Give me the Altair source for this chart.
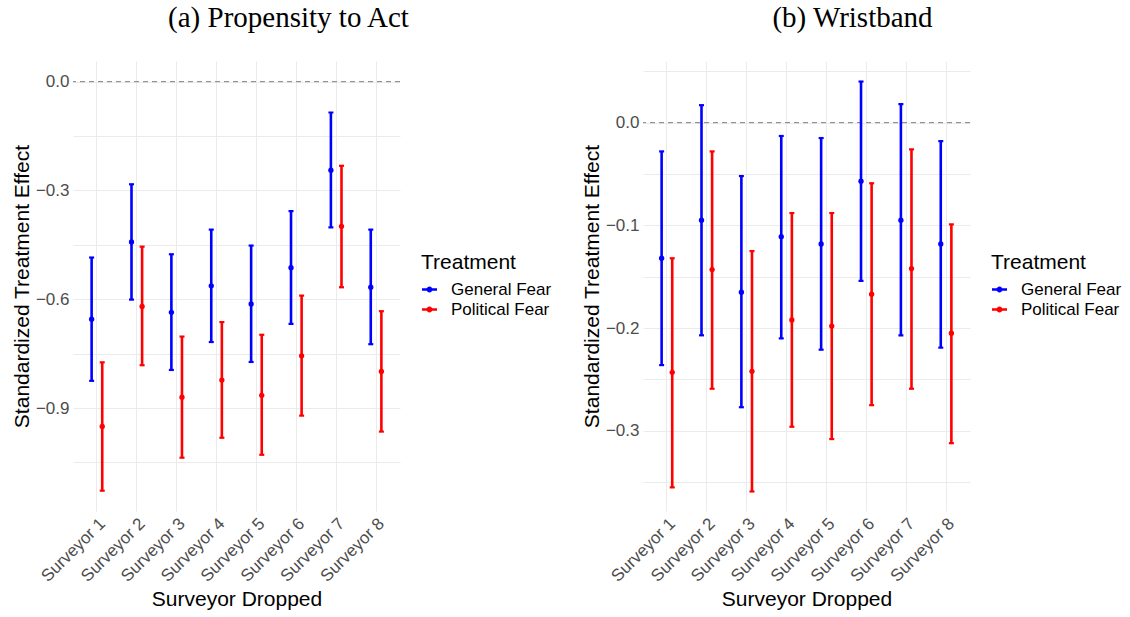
import altair as alt
import pandas as pd

surveyors = [f"Surveyor {i}" for i in range(1, 9)]
treatments = ["General Fear", "Political Fear"]
colors = ["#0000FF", "#FF0000"]

# (a) Propensity to Act: point estimates and 95% interval bounds
act_general_est = [-0.655, -0.442, -0.636, -0.563, -0.613, -0.513, -0.244, -0.567]
act_general_lo = [-0.825, -0.601, -0.795, -0.718, -0.773, -0.668, -0.402, -0.724]
act_general_hi = [-0.485, -0.283, -0.476, -0.408, -0.452, -0.357, -0.085, -0.408]
act_political_est = [-0.951, -0.620, -0.870, -0.823, -0.865, -0.756, -0.399, -0.799]
act_political_lo = [-1.128, -0.782, -1.037, -0.982, -1.029, -0.921, -0.567, -0.965]
act_political_hi = [-0.774, -0.455, -0.703, -0.663, -0.698, -0.590, -0.232, -0.633]

# (b) Wristband
wb_general_est = [-0.132, -0.095, -0.165, -0.111, -0.118, -0.057, -0.095, -0.118]
wb_general_lo = [-0.236, -0.207, -0.277, -0.210, -0.221, -0.154, -0.207, -0.219]
wb_general_hi = [-0.028, 0.017, -0.052, -0.013, -0.015, 0.040, 0.018, -0.018]
wb_political_est = [-0.243, -0.143, -0.242, -0.192, -0.198, -0.167, -0.142, -0.205]
wb_political_lo = [-0.355, -0.259, -0.359, -0.296, -0.308, -0.275, -0.259, -0.312]
wb_political_hi = [-0.132, -0.028, -0.125, -0.088, -0.088, -0.059, -0.026, -0.099]

# y-axis tick values (major ones labelled, minor ones grid only)
act_ticks = [0.0, -0.15, -0.3, -0.45, -0.6, -0.75, -0.9, -1.05]
wb_ticks = [0.05, 0.0, -0.05, -0.1, -0.15, -0.2, -0.25, -0.3, -0.35]

SANS = "Liberation Sans"
SERIF = "Liberation Serif"

# legend key: short horizontal bar with a dot in the middle
KEY_PATH = ("M-1,-0.17L1,-0.17L1,0.17L-1,0.17Z "
            "M0.4,0A0.4,0.4 0 1,1 -0.4,0A0.4,0.4 0 1,1 0.4,0Z")


def make_panel(title_text, title_dx, est_g, lo_g, hi_g, est_p, lo_p, hi_p,
               y_domain, y_ticks, major_step):
    rows = []
    for trt, est, lo, hi in [("General Fear", est_g, lo_g, hi_g),
                             ("Political Fear", est_p, lo_p, hi_p)]:
        for s, e, l, h in zip(surveyors, est, lo, hi):
            rows.append({"surveyor": s, "treatment": trt,
                         "estimate": e, "lower": l, "upper": h})
    df = pd.DataFrame(rows)

    x = alt.X(
        "surveyor:N", sort=surveyors,
        scale=alt.Scale(paddingInner=0, paddingOuter=0.1),
        axis=alt.Axis(
            title="Surveyor Dropped", labelAngle=-45, labelFontSize=17,
            labelFont=SANS, labelColor="#4D4D4D", labelPadding=4,
            ticks=False, domain=False, grid=True, gridColor="#EBEBEB",
            gridWidth=1, bandPosition=0.5, titleFont=SANS, titleFontSize=21,
            titleFontWeight="normal", titleColor="black", titlePadding=4,
        ),
    )
    x_off = alt.XOffset(
        "treatment:N", sort=treatments,
        scale=alt.Scale(domain=treatments, paddingInner=0, paddingOuter=0.88),
    )
    y_scale = alt.Scale(domain=y_domain, nice=False, zero=False)
    y_axis = alt.Axis(
        title="Standardized Treatment Effect", values=y_ticks, format=".1f",
        labelExpr=(f"abs(datum.value / {major_step} - round(datum.value / {major_step})) < 0.01"
                   " ? replace(datum.label, '-', '\u2212') : ''"),
        labelFontSize=17, labelFont=SANS, labelColor="#4D4D4D", labelPadding=4,
        ticks=False, domain=False, grid=True, gridColor="#EBEBEB", gridWidth=1,
        titleFont=SANS, titleFontSize=21, titleFontWeight="normal",
        titleColor="black", titlePadding=3,
    )
    legend = alt.Legend(
        title="Treatment", orient="none", legendX=348, legendY=191,
        titleFont=SANS, titleFontSize=21, titleFontWeight="normal",
        titleColor="black", titlePadding=8,
        labelFont=SANS, labelFontSize=17, labelColor="black", labelOffset=13,
        symbolType=KEY_PATH, symbolSize=225, symbolStrokeWidth=0,
        symbolOpacity=1, rowPadding=2,
    )
    fill = alt.Fill("treatment:N", scale=alt.Scale(domain=treatments, range=colors),
                    legend=legend)

    zero = alt.Chart(pd.DataFrame({"ref": [0.0]})).mark_rule(
        color="#7F7F7F", strokeDash=[5, 4], strokeWidth=1
    ).encode(y=alt.Y("ref:Q", scale=y_scale, axis=y_axis))

    base = alt.Chart(df).encode(x=x, xOffset=x_off, fill=fill)

    # interval bars, caps and point estimates
    bars = base.mark_bar(size=2.6, opacity=1).encode(
        y=alt.Y("lower:Q", scale=y_scale, axis=y_axis), y2="upper:Q")
    caps_lo = base.mark_tick(thickness=2.2, size=5, opacity=1).encode(
        y=alt.Y("lower:Q", scale=y_scale, axis=y_axis))
    caps_hi = base.mark_tick(thickness=2.2, size=5, opacity=1).encode(
        y=alt.Y("upper:Q", scale=y_scale, axis=y_axis))
    points = base.mark_circle(size=28, opacity=1).encode(
        y=alt.Y("estimate:Q", scale=y_scale, axis=y_axis))

    return alt.layer(zero, bars, caps_lo, caps_hi, points).properties(
        width=327, height=450,
        title=alt.TitleParams(
            title_text, font=SERIF, fontSize=29, fontWeight="normal",
            color="black", anchor="middle", frame="group", dx=title_dx,
            baseline="alphabetic", offset=5,
        ),
    )


panel_a = make_panel("(a) Propensity to Act", 52,
                     act_general_est, act_general_lo, act_general_hi,
                     act_political_est, act_political_lo, act_political_hi,
                     [-1.184, 0.057], act_ticks, 0.3)
panel_b = make_panel("(b) Wristband", 46,
                     wb_general_est, wb_general_lo, wb_general_hi,
                     wb_political_est, wb_political_lo, wb_political_hi,
                     [-0.378, 0.060], wb_ticks, 0.1)

chart = (
    alt.hconcat(panel_a, panel_b, spacing=243, bounds="flush")
    .resolve_scale(fill="independent", y="independent")
    .resolve_legend(fill="independent")
    .properties(padding={"left": 11, "top": 4, "right": 2, "bottom": 2},
                background="white")
    .configure_view(strokeWidth=0)
)

chart.save("out.html", embed_options={"renderer": "svg", "actions": False})
